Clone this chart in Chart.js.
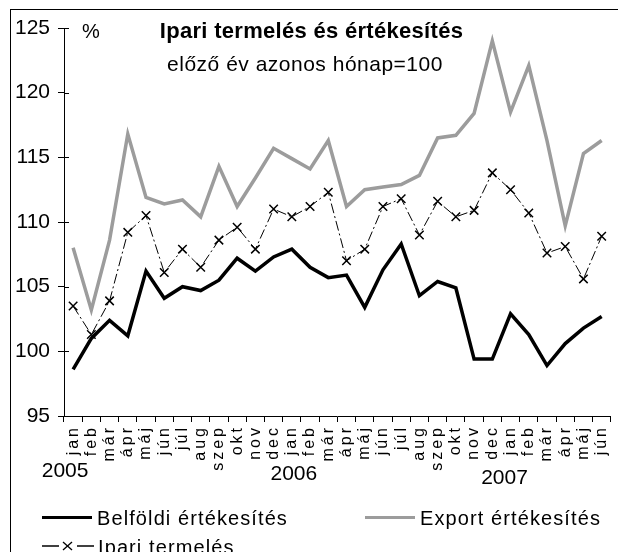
<!DOCTYPE html>
<html>
<head>
<meta charset="utf-8">
<script src="https://cdn.jsdelivr.net/npm/chart.js@4/dist/chart.umd.min.js"></script>
<style>
  html, body { margin: 0; padding: 0; background: #fff; overflow: hidden; width: 618px; height: 552px; }
  body { position: relative; font-family: "Liberation Sans", Arial, sans-serif; color: #000; }
  #frame { position: absolute; left: 10px; top: 9px; width: 700px; height: 600px; border-left: 1px solid #000; border-top: 1px solid #000; }
  #c { position: absolute; left: 0; top: 0; }
  .txt { position: absolute; white-space: nowrap; line-height: 1; }
  #title { left: 100px; width: 423px; text-align: center; top: 20px; font-size: 22px; font-weight: bold; letter-spacing: 0.3px; }
  #sub { left: 100px; width: 410px; text-align: center; top: 53px; font-size: 21px; letter-spacing: 0.5px; }
  #pct { left: 82px; top: 21px; font-size: 20px; }
  .leg { position: absolute; font-size: 20px; letter-spacing: 1.1px; line-height: 1; white-space: nowrap; }
  .sw { position: absolute; }
</style>
</head>
<body>
<div id="frame"></div>
<canvas id="c" width="624" height="552"></canvas>
<div class="txt" id="title">Ipari termelés és értékesítés</div>
<div class="txt" id="sub">előző év azonos hónap=100</div>
<div class="txt" id="pct">%</div>

<div class="sw" style="left:42px; top:516px; width:50px; height:3px; background:#000;"></div>
<div class="leg" style="left:97px; top:508px;">Belföldi értékesítés</div>
<div class="sw" style="left:365px; top:516px; width:50px; height:3px; background:#9c9c9c;"></div>
<div class="leg" style="left:420px; top:508px;">Export értékesítés</div>
<svg class="sw" style="left:42px; top:538px;" width="52" height="14">
  <line x1="0" y1="8" x2="17" y2="8" stroke="#000" stroke-width="1.5"/>
  <line x1="35" y1="8" x2="52" y2="8" stroke="#000" stroke-width="1.5"/>
  <line x1="21" y1="4" x2="30" y2="12" stroke="#000" stroke-width="1.3"/>
  <line x1="30" y1="4" x2="21" y2="12" stroke="#000" stroke-width="1.3"/>
</svg>
<div class="leg" style="left:98px; top:537px;">Ipari termelés</div>

<script>
// Ipari termelés és értékesítés, 2005 jan – 2007 jún (előző év azonos hónap = 100)

const months = ["jan", "feb", "már", "ápr", "máj", "jún", "júl", "aug", "szep", "okt", "nov", "dec",
                "jan", "feb", "már", "ápr", "máj", "jún", "júl", "aug", "szep", "okt", "nov", "dec",
                "jan", "feb", "már", "ápr", "máj", "jún"];
const years = ["2005", "2006", "2007"];
const yearStart = [0, 12, 24];

const belfoldi = [98.6, 101.0, 102.4, 101.2, 106.2, 104.1, 105.0, 104.7, 105.5, 107.2, 106.2, 107.3,
                  107.9, 106.5, 105.7, 105.9, 103.4, 106.3, 108.3, 104.3, 105.4, 104.9, 99.4, 99.4,
                  102.9, 101.3, 98.9, 100.6, 101.8, 102.7];
const exportErt = [108.0, 103.2, 108.6, 116.8, 111.9, 111.4, 111.7, 110.4, 114.3, 111.2, 113.4, 115.7,
                   114.9, 114.1, 116.3, 111.2, 112.5, 112.7, 112.9, 113.6, 116.5, 116.7, 118.4, 124.0,
                   118.5, 122.1, 116.3, 109.7, 115.3, 116.3];
const ipari = [103.5, 101.3, 103.9, 109.2, 110.5, 106.1, 107.9, 106.5, 108.6, 109.6, 107.9, 111.0,
               110.4, 111.2, 112.3, 107.0, 107.9, 111.2, 111.8, 109.0, 111.6, 110.4, 110.9, 113.8,
               112.5, 110.7, 107.6, 108.1, 105.6, 108.9];

const Y_MIN = 95, Y_MAX = 125, Y_STEP = 5;

// tick marks on the inner side of the value axis (Excel "cross" ticks)
const innerTicks = {
  id: "innerTicks",
  afterDraw(chart) {
    const { ctx, chartArea } = chart;
    const y = chart.scales.y;
    ctx.save();
    ctx.strokeStyle = "#000";
    ctx.lineWidth = 1;
    y.ticks.forEach(t => {
      const py = Math.round(y.getPixelForValue(t.value)) + 0.5;
      ctx.beginPath();
      ctx.moveTo(chartArea.left, py);
      ctx.lineTo(chartArea.left + 5, py);
      ctx.stroke();
    });
    ctx.restore();
  }
};

// the month labels in the original are letter-spaced; wrap the x scale's label drawing
const spacedMonths = {
  id: "spacedMonths",
  afterUpdate(chart) {
    const scale = chart.scales.x;
    if (scale._spaced) return;
    const orig = scale.drawLabels.bind(scale);
    scale.drawLabels = function (area) {
      const ctx = chart.ctx;
      ctx.save();
      ctx.letterSpacing = "3px";
      orig(area);
      ctx.restore();
    };
    scale._spaced = true;
  }
};

// second-level (year) labels under the month labels
const yearLabels = {
  id: "yearLabels",
  afterDraw(chart) {
    const { ctx } = chart;
    const x = chart.scales.x;
    const ys = [471, 474, 478];
    const dx = [-8, 2, -6];
    ctx.save();
    ctx.fillStyle = "#000";
    ctx.font = "21px 'Liberation Sans', Arial, sans-serif";
    ctx.textAlign = "center";
    ctx.textBaseline = "middle";
    years.forEach((label, i) => {
      ctx.fillText(label, x.getPixelForValue(yearStart[i]) + dx[i], ys[i]);
    });
    ctx.restore();
  }
};

new Chart(document.getElementById("c"), {
  type: "line",
  data: {
    labels: months,
    datasets: [
      {
        label: "Export értékesítés",
        data: exportErt,
        borderColor: "#9c9c9c",
        borderWidth: 3.5,
        pointRadius: 0,
        tension: 0,
        fill: false,
      },
      {
        label: "Belföldi értékesítés",
        data: belfoldi,
        borderColor: "#000",
        borderWidth: 3.5,
        pointRadius: 0,
        tension: 0,
        fill: false,
      },
      {
        label: "Ipari termelés",
        data: ipari,
        borderColor: "#000",
        borderWidth: 1,
        borderDash: [10, 3, 2, 3],
        pointStyle: "crossRot",
        pointRadius: 6,
        pointBorderWidth: 1.5,
        pointBorderColor: "#000",
        tension: 0,
        fill: false,
      },
    ],
  },
  options: {
    responsive: false,
    devicePixelRatio: 1,
    animation: false,
    layout: { padding: { top: 28, right: 0, left: 0, bottom: 0 } },
    plugins: { legend: { display: false }, tooltip: { enabled: false }, title: { display: false } },
    scales: {
      x: {
        offset: true,
        grid: { offset: true, drawOnChartArea: false, drawTicks: true, tickLength: 6, color: "#000" },
        border: { color: "#000", width: 1 },
        ticks: {
          minRotation: 90, maxRotation: 90, autoSkip: false, padding: 3,
          color: "#000", font: { family: "'Liberation Sans', Arial, sans-serif", size: 16 },
        },
        afterFit(scale) { scale.height = 552 - 416; },
      },
      y: {
        min: Y_MIN, max: Y_MAX,
        grid: { drawOnChartArea: false, drawTicks: true, tickLength: 6, color: "#000" },
        border: { color: "#000", width: 1 },
        ticks: {
          stepSize: Y_STEP, padding: 8,
          color: "#000", font: { family: "'Liberation Sans', Arial, sans-serif", size: 21 },
        },
        afterFit(scale) { scale.width = 64; },
      },
    },
  },
  plugins: [innerTicks, spacedMonths, yearLabels],
});
</script>
</body>
</html>
